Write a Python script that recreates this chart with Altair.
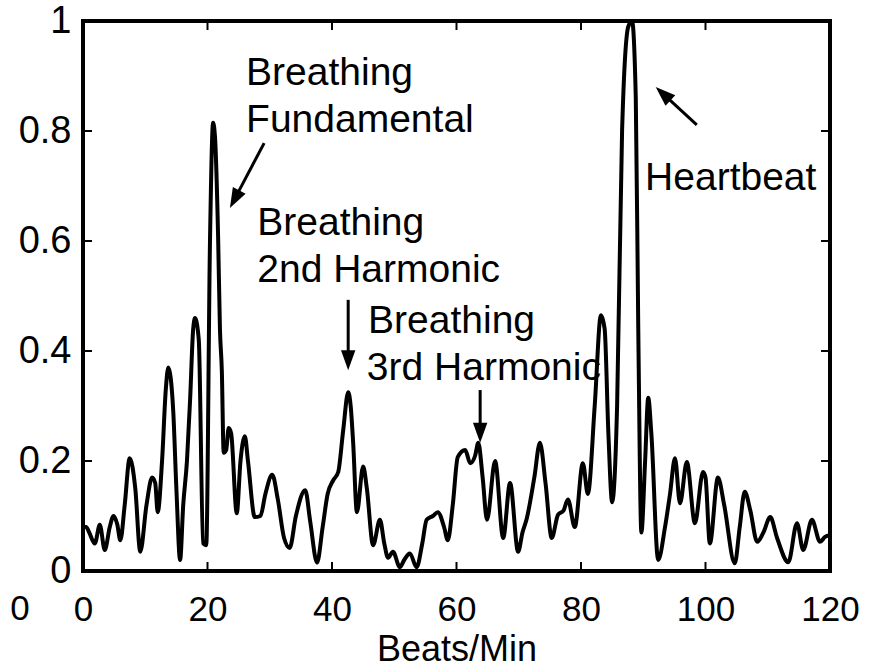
import math
import altair as alt
import pandas as pd

# ---- spectrum trace ----
bpm = [0.0, 0.5, 1.0, 1.9, 2.7, 3.5, 4.3, 4.9, 5.5, 6.0, 6.7, 7.5, 8.4, 9.2, 10.2, 11.1, 11.6, 12.0,
       12.7, 13.3, 13.7, 14.1, 14.5, 15.0, 15.6, 16.1, 16.7, 17.2, 17.7, 18.0, 18.6, 19.3, 19.8,
       20.4, 20.9, 21.2, 21.7, 22.0, 22.3, 22.6, 23.0, 23.4, 23.8, 24.7, 25.3, 26.0, 26.5, 27.6,
       28.5, 29.3, 30.4, 31.3, 32.3, 33.2, 34.2, 35.7, 36.5, 37.6, 38.5, 39.3, 40.2, 41.0, 41.8,
       42.6, 43.0, 43.4, 44.0, 45.0, 45.6, 46.6, 47.7, 48.4, 49.0, 49.8, 50.9, 51.6, 52.5, 53.6,
       54.5, 55.2, 56.2, 57.0, 58.0, 58.6, 59.4, 60.2, 61.4, 62.2, 63.0, 63.5, 64.2, 64.9, 66.2,
       67.5, 68.6, 69.9, 70.6, 71.3, 72.5, 73.4, 74.3, 75.3, 76.3, 77.2, 77.9, 79.0, 80.3, 81.1,
       82.2, 83.2, 83.8, 84.4, 85.0, 85.8, 86.6, 87.6, 88.2, 88.8, 89.2, 89.7, 90.3, 90.8, 91.3,
       92.4, 93.5, 94.3, 95.1, 95.9, 97.0, 98.3, 99.6, 100.0, 100.7, 102.0, 103.0, 104.7, 105.5,
       106.3, 107.2, 108.3, 109.3, 110.4, 111.5, 113.3, 114.7, 115.7, 117.1, 118.4, 119.2, 120.0]
amp = [0.08, 0.08, 0.07, 0.05, 0.084, 0.038, 0.08, 0.10, 0.085, 0.056, 0.12, 0.205, 0.15, 0.035, 0.12, 0.17, 0.16, 0.107,
       0.20, 0.33, 0.37, 0.35, 0.29, 0.15, 0.02, 0.12, 0.20, 0.31, 0.44, 0.46, 0.42, 0.05, 0.047,
       0.60, 0.815, 0.79, 0.61, 0.44, 0.365, 0.215, 0.22, 0.26, 0.25, 0.105, 0.20, 0.245, 0.20, 0.098,
       0.10, 0.14, 0.175, 0.13, 0.06, 0.042, 0.10, 0.147, 0.09, 0.015, 0.08, 0.14, 0.165, 0.18, 0.256,
       0.325, 0.30, 0.233, 0.107, 0.19, 0.15, 0.047, 0.093, 0.05, 0.024, 0.035, 0.007, 0.02, 0.032, 0.007,
       0.05, 0.093, 0.10, 0.107, 0.08, 0.056, 0.12, 0.207, 0.22, 0.196, 0.21, 0.233, 0.17, 0.093, 0.20,
       0.06, 0.16, 0.035, 0.07, 0.096, 0.17, 0.233, 0.16, 0.06, 0.102, 0.11, 0.13, 0.08, 0.196, 0.14,
       0.30, 0.465, 0.44, 0.25, 0.125, 0.30, 0.80, 0.99, 1.0, 0.86, 0.44, 0.07, 0.20, 0.315, 0.25,
       0.02, 0.08, 0.14, 0.205, 0.123, 0.198, 0.087, 0.18, 0.17, 0.05, 0.17, 0.12, 0.014, 0.08,
       0.144, 0.11, 0.053, 0.07, 0.098, 0.06, 0.016, 0.087, 0.038, 0.093, 0.053, 0.062, 0.065]

x_ticks = [0, 20, 40, 60, 80, 100, 120]
y_ticks = [0, 0.2, 0.4, 0.6, 0.8, 1]
inner_x_ticks = [20, 40, 60, 80, 100]
inner_y_ticks = [0.2, 0.4, 0.6, 0.8]

# annotation texts (data coordinates, left-aligned)
ann_text = ["Breathing", "Fundamental", "Breathing", "2nd Harmonic", "Breathing", "3rd Harmonic", "Heartbeat"]
ann_x = [26.2, 26.2, 28.0, 28.0, 45.8, 45.6, 90.3]
ann_y = [0.905, 0.82, 0.633, 0.547, 0.455, 0.369, 0.715]

# arrows: tail -> tip
arr_x1 = [29.1, 42.6, 63.8, 98.6]
arr_y1 = [0.778, 0.493, 0.329, 0.811]
arr_x2 = [23.6, 42.6, 63.8, 92.0]
arr_y2 = [0.660, 0.365, 0.233, 0.880]

W, H = 747, 550
XMAX = 120.0
FONT = "Liberation Sans, Arial, sans-serif"
HEAD = 20.0

rows = []
for x1, y1, x2, y2 in zip(arr_x1, arr_y1, arr_x2, arr_y2):
    dx = (x2 - x1) * W / XMAX
    dy = (y2 - y1) * H
    L = math.hypot(dx, dy)
    ang = math.degrees(math.atan2(dx, dy)) % 360
    ex = x2 - dx / L * (HEAD * 0.6) * XMAX / W
    ey = y2 - dy / L * (HEAD * 0.6) / H
    rows.append({"x1": x1, "y1": y1, "ex": ex, "ey": ey, "tx": x2, "ty": y2, "ang": ang})
arrows = pd.DataFrame(rows)

df = pd.DataFrame({"bpm": bpm, "amp": amp})
ann = pd.DataFrame({"t": ann_text, "x": ann_x, "y": ann_y})

xs = alt.Scale(domain=[0, XMAX], nice=False, zero=False)
ys = alt.Scale(domain=[0, 1], nice=False)

line = alt.Chart(df).mark_line(color="black", strokeWidth=4, interpolate="monotone", clip=True).encode(
    x=alt.X("bpm:Q", scale=xs, axis=alt.Axis(
        values=x_ticks, title="Beats/Min", domain=False, ticks=False, tickSize=0, grid=False,
        labelFlush=False, labelOverlap=False,
        labelFontSize=35, labelFont=FONT, labelColor="black", labelPadding=21,
        titleFontSize=36, titleFont=FONT, titleFontWeight="normal", titleColor="black",
        titleBaseline="middle", titleY=78)),
    y=alt.Y("amp:Q", scale=ys, axis=alt.Axis(
        values=y_ticks, format="~g", title=None, domain=False, ticks=False, tickSize=0, grid=False,
        labelFlush=False, labelOverlap=False,
        labelFontSize=38, labelFont=FONT, labelColor="black", labelPadding=12)),
)

tx_df = pd.DataFrame({"v": inner_x_ticks})
ty_df = pd.DataFrame({"v": inner_y_ticks})
TL = 9
tick_bottom = alt.Chart(tx_df).mark_rule(color="black", strokeWidth=2).encode(
    x=alt.X("v:Q", scale=xs), y=alt.value(H), y2=alt.value(H - TL))
tick_top = alt.Chart(tx_df).mark_rule(color="black", strokeWidth=2).encode(
    x=alt.X("v:Q", scale=xs), y=alt.value(0), y2=alt.value(TL))
tick_left = alt.Chart(ty_df).mark_rule(color="black", strokeWidth=2).encode(
    y=alt.Y("v:Q", scale=ys), x=alt.value(0), x2=alt.value(TL))
tick_right = alt.Chart(ty_df).mark_rule(color="black", strokeWidth=2).encode(
    y=alt.Y("v:Q", scale=ys), x=alt.value(W), x2=alt.value(W - TL))

texts = alt.Chart(ann).mark_text(align="left", baseline="middle", fontSize=39, font=FONT, color="black").encode(
    x=alt.X("x:Q", scale=xs), y=alt.Y("y:Q", scale=ys), text="t:N")

shafts = alt.Chart(arrows).mark_rule(color="black", strokeWidth=3).encode(
    x=alt.X("x1:Q", scale=xs), y=alt.Y("y1:Q", scale=ys), x2="ex:Q", y2="ey:Q")

heads = alt.Chart(arrows).mark_point(
    shape="M0,0L-0.36,1L0.36,1Z", size=HEAD * HEAD * 4, filled=True, color="black", opacity=1, strokeWidth=0
).encode(
    x=alt.X("tx:Q", scale=xs), y=alt.Y("ty:Q", scale=ys), angle=alt.Angle("ang:Q", scale=None))

stray = alt.Chart(pd.DataFrame({"t": ["0"]})).mark_text(
    align="center", baseline="middle", fontSize=35, font=FONT, color="black"
).encode(x=alt.value(-63), y=alt.value(588), text="t:N")

chart = alt.layer(line, tick_bottom, tick_top, tick_left, tick_right, texts, shafts, heads, stray).properties(
    width=W, height=H,
    autosize=alt.AutoSizeParams(type="none"),
    padding={"left": 83, "top": 21, "right": 44, "bottom": 96},
    background="white",
).configure_view(stroke="black", strokeWidth=4)

chart.save("out.html", embed_options={"renderer": "svg", "actions": False})
